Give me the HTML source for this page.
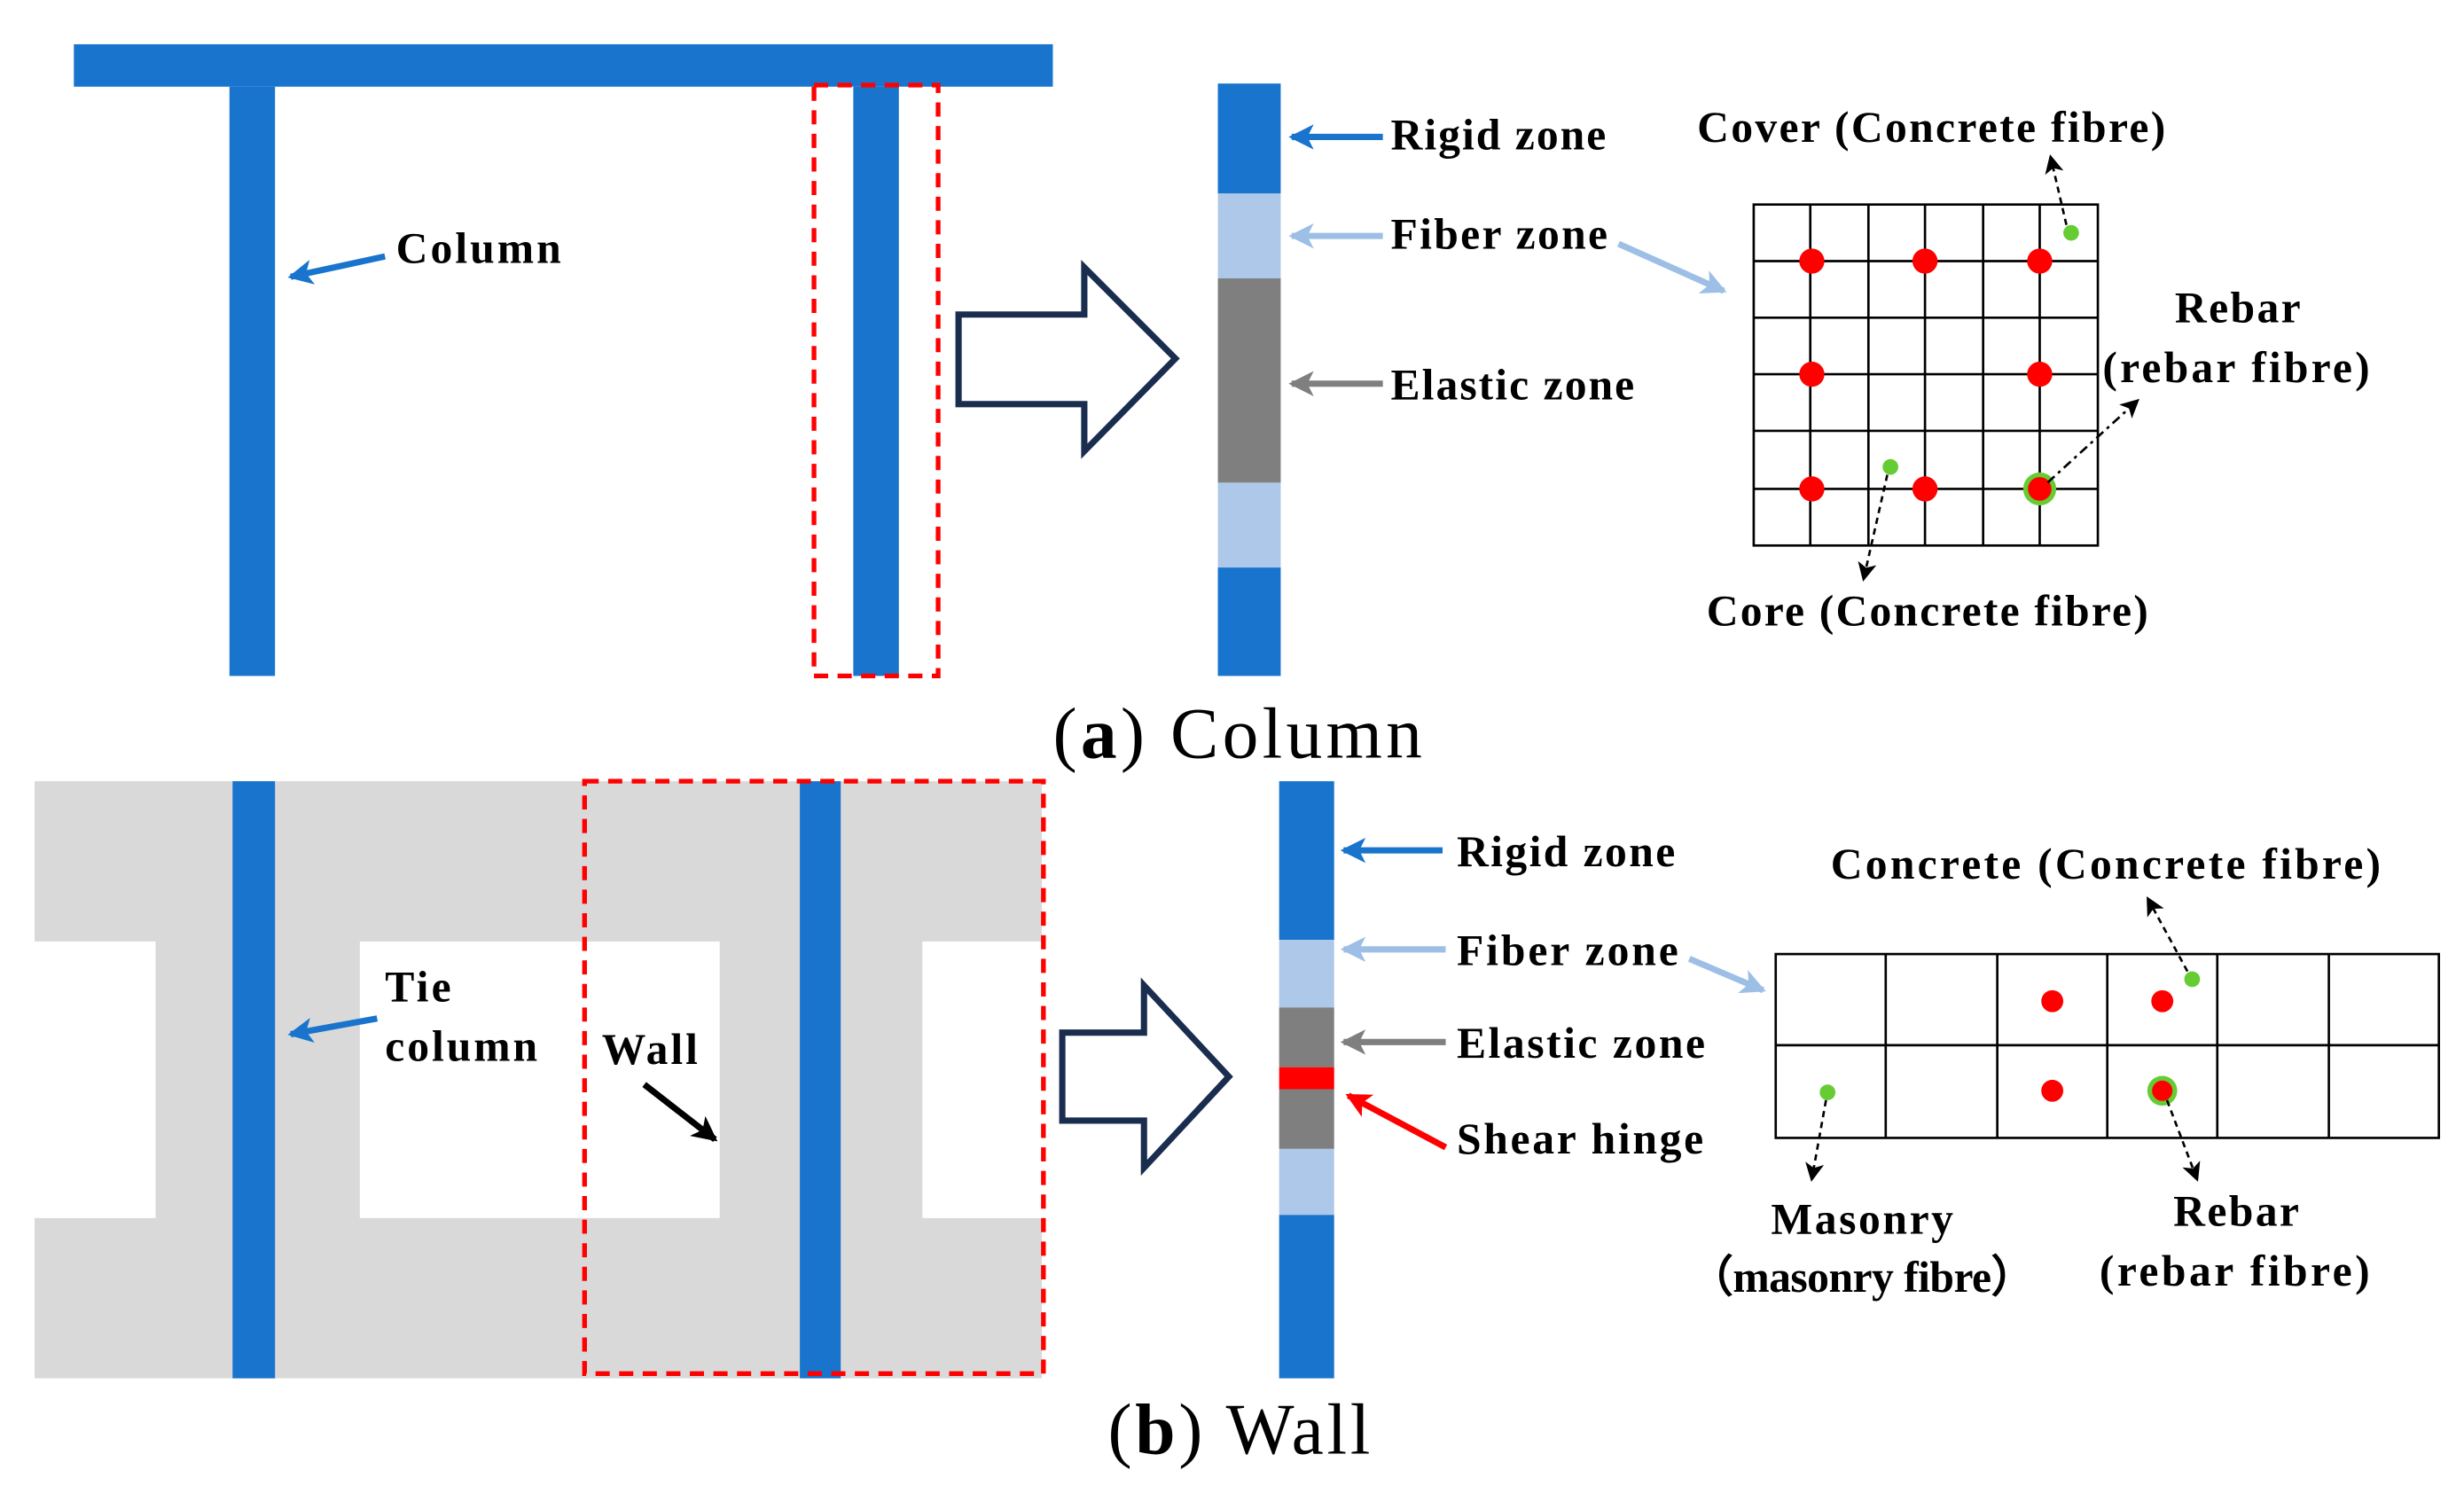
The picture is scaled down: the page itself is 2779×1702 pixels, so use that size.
<!DOCTYPE html>
<html><head><meta charset="utf-8"><style>html,body{margin:0;padding:0;background:#fff}svg{display:block}</style></head>
<body>
<svg width="2779" height="1702" viewBox="0 0 1568 960" xmlns="http://www.w3.org/2000/svg" font-family="'Liberation Serif', serif">
<defs>
<marker id="mbl" markerWidth="20" markerHeight="20" refX="14" refY="8" orient="auto" markerUnits="userSpaceOnUse"><path d="M0,0 L16,8 L0,16 L4,8 Z" fill="#1874CD"/></marker>
<marker id="mlt" markerWidth="20" markerHeight="20" refX="14" refY="8" orient="auto" markerUnits="userSpaceOnUse"><path d="M0,0 L16,8 L0,16 L4,8 Z" fill="#9dbfe6"/></marker>
<marker id="mgr" markerWidth="20" markerHeight="20" refX="14" refY="8" orient="auto" markerUnits="userSpaceOnUse"><path d="M0,0 L16,8 L0,16 L4,8 Z" fill="#7f7f7f"/></marker>
<marker id="mrd" markerWidth="20" markerHeight="20" refX="14" refY="8" orient="auto" markerUnits="userSpaceOnUse"><path d="M0,0 L16,8 L0,16 L4,8 Z" fill="#ff0000"/></marker>
<marker id="mbk" markerWidth="20" markerHeight="20" refX="14" refY="8" orient="auto" markerUnits="userSpaceOnUse"><path d="M0,0 L16,8 L0,16 L4,8 Z" fill="#000"/></marker>
<marker id="msm" markerWidth="14" markerHeight="14" refX="10" refY="6" orient="auto" markerUnits="userSpaceOnUse"><path d="M0,0 L12,6 L0,12 L3,6 Z" fill="#000"/></marker>
</defs>
<g font-weight="bold" font-size="28" fill="#000">
<!-- (a) -->
<rect x="47" y="28" width="623" height="27" fill="#1874CD"/>
<rect x="146" y="55" width="29" height="375" fill="#1874CD"/>
<rect x="543" y="55" width="29" height="375" fill="#1874CD"/>
<rect x="518" y="54" width="79" height="376" fill="none" stroke="#ff0000" stroke-width="3" stroke-dasharray="9,6"/>
<text x="252" y="167" textLength="105" lengthAdjust="spacing">Column</text>
<line x1="245" y1="163" x2="185" y2="176" stroke="#1874CD" stroke-width="4" marker-end="url(#mbl)"/>
<path d="M610,200 L690,200 L690,170 L748,228 L690,287 L690,257 L610,257 Z" fill="#fff" stroke="#1a2d4f" stroke-width="4"/>
<rect x="775" y="53" width="40" height="70" fill="#1874CD"/>
<rect x="775" y="123" width="40" height="54" fill="#adc8e8"/>
<rect x="775" y="177" width="40" height="130" fill="#7f7f7f"/>
<rect x="775" y="307" width="40" height="54" fill="#adc8e8"/>
<rect x="775" y="361" width="40" height="69" fill="#1874CD"/>
<text x="885" y="95" textLength="137" lengthAdjust="spacing">Rigid zone</text>
<line x1="880" y1="87" x2="822" y2="87" stroke="#1874CD" stroke-width="4" marker-end="url(#mbl)"/>
<text x="885" y="158" textLength="138" lengthAdjust="spacing">Fiber zone</text>
<line x1="880" y1="150" x2="822" y2="150" stroke="#9dbfe6" stroke-width="4" marker-end="url(#mlt)"/>
<text x="885" y="254" textLength="155" lengthAdjust="spacing">Elastic zone</text>
<line x1="880" y1="244" x2="822" y2="244" stroke="#7f7f7f" stroke-width="4" marker-end="url(#mgr)"/>
<line x1="1030" y1="155" x2="1097" y2="185" stroke="#9dbfe6" stroke-width="4" marker-end="url(#mlt)"/>
<g stroke="#000" stroke-width="1.5" fill="none">
<rect x="1116" y="130" width="219" height="217"/>
<line x1="1152" y1="130" x2="1152" y2="347"/><line x1="1189" y1="130" x2="1189" y2="347"/><line x1="1225" y1="130" x2="1225" y2="347"/><line x1="1262" y1="130" x2="1262" y2="347"/><line x1="1298" y1="130" x2="1298" y2="347"/>
<line x1="1116" y1="166" x2="1335" y2="166"/><line x1="1116" y1="202" x2="1335" y2="202"/><line x1="1116" y1="238" x2="1335" y2="238"/><line x1="1116" y1="274" x2="1335" y2="274"/><line x1="1116" y1="311" x2="1335" y2="311"/>
</g>
<g fill="#ff0000"><circle cx="1153" cy="166" r="8"/><circle cx="1225" cy="166" r="8"/><circle cx="1298" cy="166" r="8"/><circle cx="1153" cy="238" r="8"/><circle cx="1298" cy="238" r="8"/><circle cx="1153" cy="311" r="8"/><circle cx="1225" cy="311" r="8"/></g>
<circle cx="1298" cy="311" r="9" fill="#ff0000" stroke="#66cc33" stroke-width="3"/>
<circle cx="1318" cy="148" r="5" fill="#66cc33"/><circle cx="1203" cy="297" r="5" fill="#66cc33"/>
<text x="1080" y="90" textLength="298" lengthAdjust="spacing">Cover (Concrete fibre)</text>
<line x1="1315" y1="143" x2="1305" y2="100" stroke="#000" stroke-width="1.5" stroke-dasharray="4,3" marker-end="url(#msm)"/>
<text x="1384" y="205" textLength="80" lengthAdjust="spacing">Rebar</text>
<text x="1338" y="243" textLength="170" lengthAdjust="spacing">(rebar  fibre)</text>
<line x1="1303" y1="307" x2="1360" y2="255" stroke="#000" stroke-width="1.5" stroke-dasharray="6,3,2,3" marker-end="url(#msm)"/>
<text x="1086" y="398" textLength="281" lengthAdjust="spacing">Core (Concrete fibre)</text>
<line x1="1201" y1="302" x2="1186" y2="368" stroke="#000" stroke-width="1.5" stroke-dasharray="4,3" marker-end="url(#msm)"/>
<text x="670" y="482" font-weight="normal" font-size="46" textLength="235" lengthAdjust="spacing">(<tspan font-weight="bold">a</tspan>) Column</text>
<!-- (b) -->
<path d="M22,497 L663,497 L663,599 L587,599 L587,775 L663,775 L663,877 L22,877 L22,775 L99,775 L99,599 L22,599 Z" fill="#d9d9d9"/>
<rect x="229" y="599" width="229" height="176" fill="#fff"/>
<rect x="148" y="497" width="27" height="380" fill="#1874CD"/>
<rect x="509" y="497" width="26" height="380" fill="#1874CD"/>
<rect x="372" y="497" width="292" height="377" fill="none" stroke="#ff0000" stroke-width="3" stroke-dasharray="9,6"/>
<text x="245" y="637" textLength="42" lengthAdjust="spacing">Tie</text><text x="245" y="675" textLength="97" lengthAdjust="spacing">column</text>
<line x1="240" y1="648" x2="185" y2="658" stroke="#1874CD" stroke-width="4" marker-end="url(#mbl)"/>
<text x="383" y="677" textLength="61" lengthAdjust="spacing">Wall</text>
<line x1="410" y1="690" x2="455" y2="725" stroke="#000" stroke-width="4" marker-end="url(#mbk)"/>
<path d="M676,657 L728,657 L728,627 L782,685 L728,743 L728,713 L676,713 Z" fill="#fff" stroke="#1a2d4f" stroke-width="4"/>
<rect x="814" y="497" width="35" height="101" fill="#1874CD"/>
<rect x="814" y="598" width="35" height="43" fill="#adc8e8"/>
<rect x="814" y="641" width="35" height="38" fill="#7f7f7f"/>
<rect x="814" y="679" width="35" height="14" fill="#ff0000"/>
<rect x="814" y="693" width="35" height="38" fill="#7f7f7f"/>
<rect x="814" y="731" width="35" height="42" fill="#adc8e8"/>
<rect x="814" y="773" width="35" height="104" fill="#1874CD"/>
<text x="927" y="551" textLength="139" lengthAdjust="spacing">Rigid zone</text>
<line x1="918" y1="541" x2="855" y2="541" stroke="#1874CD" stroke-width="4" marker-end="url(#mbl)"/>
<text x="927" y="614" textLength="141" lengthAdjust="spacing">Fiber zone</text>
<line x1="920" y1="604" x2="855" y2="604" stroke="#9dbfe6" stroke-width="4" marker-end="url(#mlt)"/>
<text x="927" y="673" textLength="158" lengthAdjust="spacing">Elastic zone</text>
<line x1="920" y1="663" x2="855" y2="663" stroke="#7f7f7f" stroke-width="4" marker-end="url(#mgr)"/>
<text x="927" y="734" textLength="157" lengthAdjust="spacing">Shear hinge</text>
<line x1="920" y1="730" x2="858" y2="697" stroke="#ff0000" stroke-width="4" marker-end="url(#mrd)"/>
<line x1="1075" y1="610" x2="1122" y2="630" stroke="#9dbfe6" stroke-width="4" marker-end="url(#mlt)"/>
<g stroke="#000" stroke-width="1.5" fill="none">
<rect x="1130" y="607" width="422" height="117"/>
<line x1="1200" y1="607" x2="1200" y2="724"/><line x1="1271" y1="607" x2="1271" y2="724"/><line x1="1341" y1="607" x2="1341" y2="724"/><line x1="1411" y1="607" x2="1411" y2="724"/><line x1="1482" y1="607" x2="1482" y2="724"/>
<line x1="1130" y1="665" x2="1552" y2="665"/>
</g>
<g fill="#ff0000"><circle cx="1306" cy="637" r="7"/><circle cx="1376" cy="637" r="7"/><circle cx="1306" cy="694" r="7"/></g>
<circle cx="1376" cy="694" r="8" fill="#ff0000" stroke="#66cc33" stroke-width="3"/>
<circle cx="1395" cy="623" r="5" fill="#66cc33"/><circle cx="1163" cy="695" r="5" fill="#66cc33"/>
<text x="1165" y="559" textLength="350" lengthAdjust="spacing">Concrete  (Concrete  fibre)</text>
<line x1="1392" y1="618" x2="1367" y2="572" stroke="#000" stroke-width="1.5" stroke-dasharray="4,3" marker-end="url(#msm)"/>
<text x="1127" y="785" textLength="116" lengthAdjust="spacing">Masonry</text>
<text x="1075" y="822" textLength="220" lengthAdjust="spacing">（masonry fibre）</text>
<line x1="1162" y1="700" x2="1153" y2="750" stroke="#000" stroke-width="1.5" stroke-dasharray="4,3" marker-end="url(#msm)"/>
<text x="1383" y="780" textLength="80" lengthAdjust="spacing">Rebar</text>
<text x="1336" y="818" textLength="172" lengthAdjust="spacing">(rebar  fibre)</text>
<line x1="1379" y1="700" x2="1398" y2="750" stroke="#000" stroke-width="1.5" stroke-dasharray="4,3" marker-end="url(#msm)"/>
<text x="705" y="925" font-weight="normal" font-size="46" textLength="167" lengthAdjust="spacing">(<tspan font-weight="bold">b</tspan>) Wall</text>
</g>
</svg>
</body></html>
